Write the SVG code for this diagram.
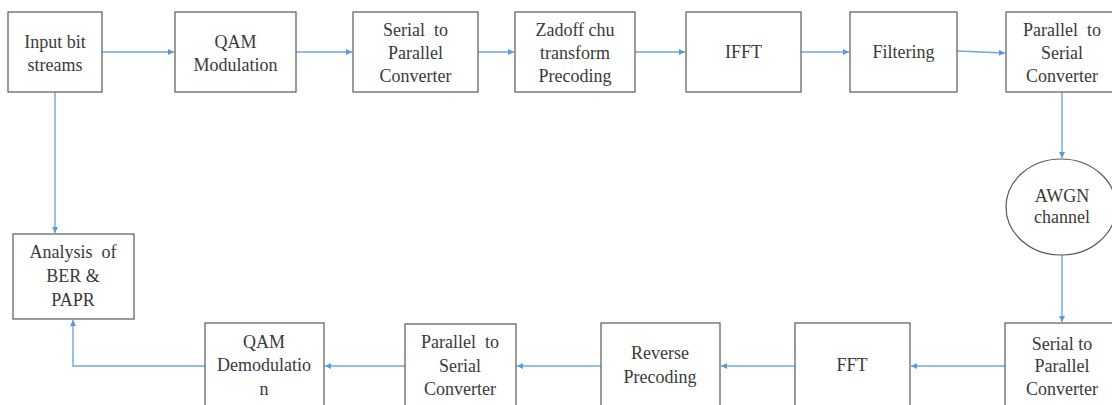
<svg xmlns="http://www.w3.org/2000/svg" width="1112" height="405" viewBox="0 0 1112 405" font-family="Liberation Serif, DejaVu Serif, serif">
<defs>
<marker id="ah" markerWidth="7" markerHeight="7" refX="6" refY="3" orient="auto" markerUnits="userSpaceOnUse">
<path d="M0,0 L6,3 L0,6 z" fill="#5B9BD5"/>
</marker>
<style>
.box{fill:#fff;stroke:#595959;stroke-width:1.2}
.t{font-size:18px;fill:#3a3a3a;text-anchor:middle}
.c{fill:none;stroke:#6FA8DC;stroke-width:1.4}
</style>
</defs>
<rect width="1112" height="405" fill="#fff"/>
<g id="connectors">
<line class="c" x1="102" y1="52" x2="174" y2="52" marker-end="url(#ah)"/>
<line class="c" x1="296" y1="52" x2="352" y2="52" marker-end="url(#ah)"/>
<line class="c" x1="478" y1="52" x2="514" y2="52" marker-end="url(#ah)"/>
<line class="c" x1="635" y1="52" x2="685" y2="52" marker-end="url(#ah)"/>
<line class="c" x1="801" y1="52" x2="849" y2="52" marker-end="url(#ah)"/>
<line class="c" x1="957" y1="51" x2="1005" y2="53" marker-end="url(#ah)"/>
<line class="c" x1="1062" y1="92" x2="1062" y2="158" marker-end="url(#ah)"/>
<line class="c" x1="1062" y1="255" x2="1062" y2="322" marker-end="url(#ah)"/>
<line class="c" x1="1005" y1="366" x2="911" y2="366" marker-end="url(#ah)"/>
<line class="c" x1="795" y1="366" x2="721" y2="366" marker-end="url(#ah)"/>
<line class="c" x1="601" y1="366" x2="517" y2="366" marker-end="url(#ah)"/>
<line class="c" x1="405" y1="366" x2="325" y2="366" marker-end="url(#ah)"/>
<polyline class="c" points="205,366 73,366 73,320" marker-end="url(#ah)"/>
<line class="c" x1="55" y1="92" x2="55" y2="233" marker-end="url(#ah)"/>
</g>
<g id="input">
<rect class="box" x="8" y="12" width="94" height="80"/>
<text class="t" x="55" y="48">Input bit</text>
<text class="t" x="55" y="71">streams</text>
</g>
<g id="qam">
<rect class="box" x="175" y="12" width="121" height="80"/>
<text class="t" x="235.5" y="48">QAM</text>
<text class="t" x="235.5" y="71">Modulation</text>
</g>
<g id="sp1">
<rect class="box" x="353" y="12" width="125" height="80"/>
<text class="t" x="415.5" y="36" xml:space="preserve">Serial  to</text>
<text class="t" x="415.5" y="59">Parallel</text>
<text class="t" x="415.5" y="82">Converter</text>
</g>
<g id="zadoff">
<rect class="box" x="515" y="12" width="120" height="80"/>
<text class="t" x="575" y="36">Zadoff chu</text>
<text class="t" x="575" y="59">transform</text>
<text class="t" x="575" y="82">Precoding</text>
</g>
<g id="ifft">
<rect class="box" x="686" y="12" width="115" height="80"/>
<text class="t" x="743.5" y="58">IFFT</text>
</g>
<g id="filter">
<rect class="box" x="850" y="12" width="107" height="80"/>
<text class="t" x="903.5" y="58">Filtering</text>
</g>
<g id="ps1">
<rect class="box" x="1006" y="12" width="112" height="80"/>
<text class="t" x="1062" y="36" xml:space="preserve">Parallel  to</text>
<text class="t" x="1062" y="59">Serial</text>
<text class="t" x="1062" y="82">Converter</text>
</g>
<g id="awgn">
<ellipse cx="1061" cy="207" rx="55" ry="48" fill="#fff" stroke="#595959" stroke-width="1.2"/>
<text class="t" x="1062" y="202">AWGN</text>
<text class="t" x="1062" y="223">channel</text>
</g>
<g id="analysis">
<rect class="box" x="13" y="234" width="121" height="85"/>
<text class="t" x="73" y="258" xml:space="preserve">Analysis  of</text>
<text class="t" x="73" y="282">BER &amp;</text>
<text class="t" x="73" y="306">PAPR</text>
</g>
<g id="sp2">
<rect class="box" x="1005" y="323" width="113" height="100"/>
<text class="t" x="1062" y="350">Serial to</text>
<text class="t" x="1062" y="372">Parallel</text>
<text class="t" x="1062" y="395">Converter</text>
</g>
<g id="fft">
<rect class="box" x="795" y="323" width="115" height="100"/>
<text class="t" x="852" y="371">FFT</text>
</g>
<g id="reverse">
<rect class="box" x="601" y="323" width="119" height="100"/>
<text class="t" x="660" y="359">Reverse</text>
<text class="t" x="660" y="383">Precoding</text>
</g>
<g id="ps2">
<rect class="box" x="405" y="324" width="111" height="100"/>
<text class="t" x="460" y="348" xml:space="preserve">Parallel  to</text>
<text class="t" x="460" y="372">Serial</text>
<text class="t" x="460" y="395">Converter</text>
</g>
<g id="qamdemod">
<rect class="box" x="205" y="323" width="119" height="100"/>
<text class="t" x="264" y="348">QAM</text>
<text class="t" x="264" y="371">Demodulatio</text>
<text class="t" x="264" y="395">n</text>
</g>
</svg>
